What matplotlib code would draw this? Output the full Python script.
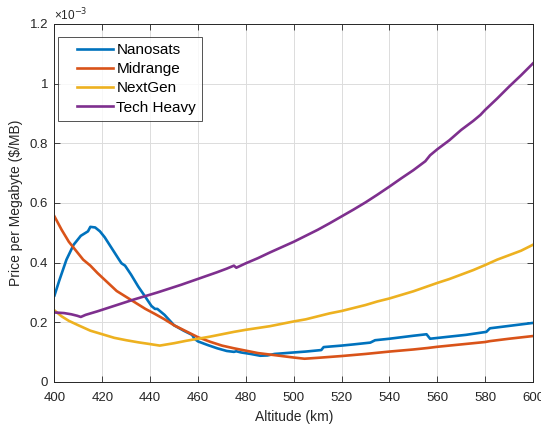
import matplotlib.pyplot as plt
from matplotlib.legend_handler import HandlerLine2D

plt.rcParams['font.family'] = ['Liberation Sans', 'DejaVu Sans']

# altitude (km) and price per megabyte (x 1e-3 $/MB)
alt_nano = [400, 402, 405, 408, 411, 413, 414, 415, 417, 419, 421, 423, 425, 427, 428, 429.5,
            432, 435, 438, 440.5, 442, 443, 446, 450, 454, 457.5, 458.5, 460, 464, 468, 472,
            475, 476, 478, 482, 486, 489, 492, 500, 505, 511.5, 512.5, 520, 525, 532, 534,
            540, 545, 550, 555.5, 557, 565, 572, 580.5, 582, 590, 600]
price_nano = [0.29, 0.34, 0.41, 0.46, 0.49, 0.50, 0.505, 0.52, 0.518, 0.505, 0.485, 0.46,
              0.435, 0.41, 0.398, 0.39, 0.36, 0.32, 0.285, 0.255, 0.245, 0.245, 0.225, 0.19,
              0.172, 0.158, 0.145, 0.136, 0.124, 0.113, 0.104, 0.101, 0.103, 0.099, 0.094,
              0.088, 0.089, 0.094, 0.099, 0.102, 0.107, 0.117, 0.122, 0.126, 0.132, 0.140,
              0.145, 0.150, 0.155, 0.160, 0.145, 0.152, 0.158, 0.168, 0.180, 0.188, 0.198]

alt_mid = [400, 403, 406, 409, 412, 415, 418, 422, 426, 430, 434, 438, 442, 446, 450, 455,
           460, 465, 470, 475, 480, 485, 490, 495, 500, 504.5, 510, 520, 530, 540, 550, 556,
           560, 570, 580, 582, 590, 600]
price_mid = [0.555, 0.51, 0.47, 0.44, 0.41, 0.39, 0.365, 0.335, 0.305, 0.285, 0.265, 0.245,
             0.228, 0.21, 0.19, 0.17, 0.15, 0.135, 0.122, 0.113, 0.105, 0.097, 0.092, 0.087,
             0.082, 0.078, 0.081, 0.087, 0.094, 0.102, 0.109, 0.114, 0.118, 0.126, 0.134,
             0.137, 0.145, 0.154]

alt_next = [400, 403, 406, 410, 415, 420, 425, 430, 435, 440, 444, 450, 455, 460, 465, 470,
            475, 480, 485, 490, 495, 500, 505, 510, 515, 520, 525, 530, 535, 540, 545, 550,
            555, 560, 565, 570, 575, 580, 585, 590, 595, 600]
price_next = [0.24, 0.22, 0.205, 0.19, 0.172, 0.16, 0.148, 0.14, 0.133, 0.127, 0.122, 0.13,
              0.138, 0.145, 0.152, 0.16, 0.168, 0.175, 0.181, 0.187, 0.195, 0.203, 0.21,
              0.22, 0.23, 0.238, 0.248, 0.258, 0.27, 0.28, 0.292, 0.304, 0.318, 0.332,
              0.345, 0.36, 0.375, 0.392, 0.41, 0.425, 0.44, 0.46]

alt_tech = [400, 404, 407, 409.5, 411, 413, 418, 423, 428, 433, 438, 443, 448, 453, 458, 463,
            468, 472, 475, 476, 480, 485, 490, 495, 500, 505, 510, 515, 520, 525, 530, 535,
            540, 545, 550, 555, 557, 560, 565, 570, 575, 578, 580, 585, 590, 595, 600]
price_tech = [0.233, 0.231, 0.227, 0.222, 0.218, 0.225, 0.237, 0.25, 0.263, 0.276, 0.288,
              0.300, 0.313, 0.326, 0.34, 0.354, 0.368, 0.380, 0.39, 0.383, 0.398, 0.415,
              0.434, 0.452, 0.47, 0.49, 0.51, 0.532, 0.555, 0.578, 0.602, 0.628, 0.655,
              0.683, 0.71, 0.74, 0.76, 0.78, 0.81, 0.845, 0.875, 0.895, 0.912, 0.95, 0.99,
              1.028, 1.068]

x_ticks = [400, 420, 440, 460, 480, 500, 520, 540, 560, 580, 600]
y_ticks = [0, 0.2, 0.4, 0.6, 0.8, 1.0, 1.2]
y_ticklabels = ['0', '0.2', '0.4', '0.6', '0.8', '1', '1.2']


# legend line starts a bit right of the handle box (matlab style)
class PaddedLine(HandlerLine2D):
    def get_xdata(self, legend, xdescent, ydescent, width, height, fontsize):
        x0 = -xdescent + 0.25 * width
        return [x0, -xdescent + width], [x0]


fig = plt.figure(figsize=(5.41, 4.26), dpi=100)
ax = fig.add_axes([0.1007, 0.1033, 0.8845, 0.8404])

ax.plot(alt_nano, price_nano, color='#0072BD', lw=1.9, label='Nanosats')
ax.plot(alt_mid, price_mid, color='#D95319', lw=1.9, label='Midrange')
ax.plot(alt_next, price_next, color='#EDB120', lw=1.9, label='NextGen')
ax.plot(alt_tech, price_tech, color='#7E2F8E', lw=1.9, label='Tech Heavy')

ax.set_xlim(400, 600)
ax.set_ylim(0, 1.2)
ax.set_xticks(x_ticks)
ax.set_yticks(y_ticks)
ax.set_yticklabels(y_ticklabels)
ax.grid(True, color='#dcdcdc', lw=0.7)
ax.set_axisbelow(True)
ax.tick_params(direction='in', top=True, right=True, length=4, labelsize=9.5,
               colors='#262626', width=0.6)
ax.tick_params(axis='x', pad=7.5)
ax.tick_params(axis='y', pad=4.5)
for s in ax.spines.values():
    s.set_color('#262626')
    s.set_linewidth(0.7)

ax.set_xlabel('Altitude (km)', fontsize=10, color='#262626', labelpad=4)
ax.set_ylabel('Price per Megabyte (\\$/MB)', fontsize=10, color='#262626', labelpad=5)
ax.text(0.0, 1.003, '×10$^{-3}$', transform=ax.transAxes, fontsize=8.5, color='#262626',
        va='bottom', ha='left')

leg = ax.legend(loc='upper left', bbox_to_anchor=(0.008, 0.964), fontsize=11,
                frameon=True, fancybox=False, edgecolor='#262626', handlelength=3.2,
                handletextpad=0.2, borderpad=0.4, labelspacing=0.34, borderaxespad=0.0,
                handler_map={plt.Line2D: PaddedLine()})
leg.get_frame().set_linewidth(0.7)

fig.savefig('out.png', dpi=100)
